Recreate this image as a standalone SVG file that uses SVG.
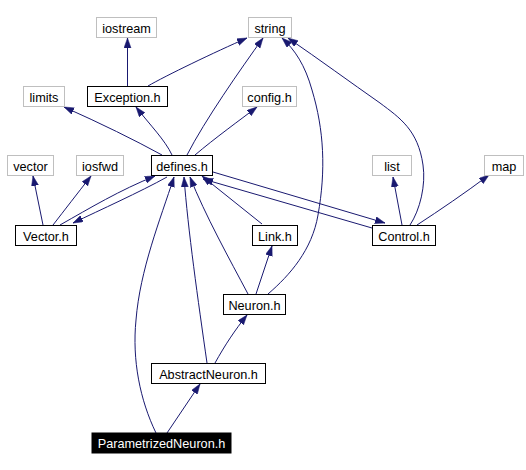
<svg xmlns="http://www.w3.org/2000/svg" width="526" height="470" viewBox="0 0 526 470">
<style>
.n rect{fill:#fff;stroke:#000;stroke-width:1}
.g rect{fill:#fff;stroke:#bfbfbf;stroke-width:1}
.b rect{fill:#000;stroke:#000}
text{font-family:"Liberation Sans",Arial,sans-serif;font-size:12.7px;text-anchor:middle;fill:#000}
.b text{fill:#fff}
#edges path{fill:none;stroke:#191970;stroke-width:1;marker-end:url(#ah)}
</style>
<defs>
<marker id="ah" markerUnits="userSpaceOnUse" markerWidth="11" markerHeight="8" refX="10" refY="3.5" orient="auto">
<path d="M0,0 L10,3.5 L0,7 z" fill="#191970" stroke="#191970" stroke-width="0.5"/>
</marker>
</defs>
<rect width="526" height="470" fill="#fff"/>
<g id="edges">
<path d="M127.5,86 L127.5,38"/>
<path d="M148,86 C165,76 215,52 247,38"/>
<path d="M162,155 Q120,132 64,107"/>
<path d="M172,155 C165,140 150,125 136,107"/>
<path d="M187,155 C205,120 240,70 263,38"/>
<path d="M195,155 C215,138 240,120 257,107"/>
<path d="M268,294 C290,275 312,250 318,215 C326,170 324,130 312,90 C305,65 295,50 282,38"/>
<path d="M410,225 C420,210 426,185 423,165 C418,130 400,118 380,103 C350,82 320,60 288,38"/>
<path d="M43,225 L33,176"/>
<path d="M53,225 Q70,203 91,176"/>
<path d="M60,225 C90,208 120,190 155,176"/>
<path d="M167,177 C140,192 100,210 73,223"/>
<path d="M262,224 L202,176"/>
<path d="M213,172 L385,223"/>
<path d="M372,228 L203,179"/>
<path d="M402,225 L393,177"/>
<path d="M417,225 C440,210 465,193 489,175"/>
<path d="M256,294 L272,246"/>
<path d="M248,294 C230,260 205,215 190,177"/>
<path d="M215,363 C225,345 235,330 247,315"/>
<path d="M207,363 C198,300 188,230 184,177"/>
<path d="M167,433 L200,384"/>
<path d="M156,433 C140,400 132,360 136,320 C140,270 160,220 174,177"/>
</g>
<g id="iostream" class="g"><rect x="96.5" y="17.5" width="60" height="20"/><text x="126.5" y="32.5">iostream</text></g>
<g id="string" class="g"><rect x="248.5" y="17.5" width="43" height="20"/><text x="270" y="32.5">string</text></g>
<g id="limits" class="g"><rect x="23.5" y="86.5" width="41" height="20"/><text x="44" y="101.5">limits</text></g>
<g id="Exception_h" class="n"><rect x="87.5" y="86.5" width="80" height="20"/><text x="127.5" y="101.5">Exception.h</text></g>
<g id="config_h" class="g"><rect x="242.5" y="86.5" width="54" height="20"/><text x="269.5" y="101.5">config.h</text></g>
<g id="vector" class="g"><rect x="7.5" y="155.5" width="46" height="20"/><text x="30.5" y="170.5">vector</text></g>
<g id="iosfwd" class="g"><rect x="76.5" y="155.5" width="47" height="20"/><text x="100" y="170.5">iosfwd</text></g>
<g id="defines_h" class="n"><rect x="151.5" y="155.5" width="61" height="20"/><text x="182" y="170.5">defines.h</text></g>
<g id="list" class="g"><rect x="372.5" y="155.5" width="39" height="20"/><text x="392" y="170.5">list</text></g>
<g id="map" class="g"><rect x="484.5" y="155.5" width="39" height="20"/><text x="504" y="170.5">map</text></g>
<g id="Vector_h" class="n"><rect x="15.5" y="225.5" width="61" height="20"/><text x="46" y="240.5">Vector.h</text></g>
<g id="Link_h" class="n"><rect x="252.5" y="225.5" width="45" height="20"/><text x="275" y="240.5">Link.h</text></g>
<g id="Control_h" class="n"><rect x="372.5" y="225.5" width="63" height="20"/><text x="404" y="240.5">Control.h</text></g>
<g id="Neuron_h" class="n"><rect x="223.5" y="294.5" width="62" height="20"/><text x="254.5" y="309.5">Neuron.h</text></g>
<g id="AbstractNeuron_h" class="n"><rect x="151.5" y="363.5" width="114" height="20"/><text x="208.5" y="378.5">AbstractNeuron.h</text></g>
<g id="ParametrizedNeuron_h" class="b"><rect x="92" y="433" width="139" height="20"/><text x="161.5" y="448">ParametrizedNeuron.h</text></g>
</svg>
